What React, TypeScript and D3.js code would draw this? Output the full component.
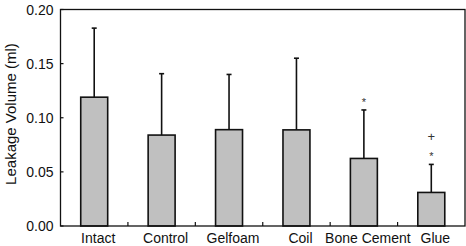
import React from "react";
import * as d3 from "d3";

const categories = ["Intact", "Control", "Gelfoam", "Coil", "Bone Cement", "Glue"];
const means = [0.119, 0.084, 0.089, 0.0888, 0.0624, 0.031];
const errTops = [0.1828, 0.1407, 0.140, 0.155, 0.1072, 0.0569];
const marks = [[], [], [], [], ["*"], ["*", "+"]];
const yTicks = [0, 0.05, 0.1, 0.15, 0.2];

const W = 466, H = 246;
const M = { left: 60.5, right: 465, top: 9.5, bottom: 226 };

export default function App() {
  const x = d3.scaleBand<string>().domain(categories).range([M.left, M.right]).paddingInner(0).paddingOuter(0);
  const y = d3.scaleLinear().domain([0, 0.2]).range([M.bottom, M.top]);
  const bw = x.bandwidth() * 0.4;
  const font = "Liberation Sans, Arial, sans-serif";
  return (
    <svg width={W} height={H} style={{ position: "absolute", left: 0, top: 0 }}>
      <rect x={0} y={0} width={W} height={H} fill="white" />
      {categories.map((c, i) => {
        const cx = x(c)! + x.bandwidth() / 2;
        return (
          <g key={c}>
            <line x1={cx} x2={cx} y1={y(means[i])} y2={y(errTops[i])} stroke="#111" strokeWidth={1.6} />
            <line x1={cx - 2.5} x2={cx + 2.5} y1={y(errTops[i])} y2={y(errTops[i])} stroke="#111" strokeWidth={1.6} />
            <rect x={cx - bw / 2} y={y(means[i])} width={bw} height={y(0) - y(means[i])} fill="#c0c0c0" stroke="#111" strokeWidth={1.6} />
            {marks[i].map((m, k) => (
              <text key={k} x={cx} y={y(errTops[i]) - 8 - k * 15 + (m === "*" ? 4 : 0)} textAnchor="middle" fontFamily={font} fontSize={m === "*" ? 11 : 13} fill="#333">{m}</text>
            ))}
            <text x={cx + 4} y={243} textAnchor="middle" fontFamily={font} fontSize={14} fill="#111">{c}</text>
          </g>
        );
      })}
      {categories.slice(1).map((c) => (
        <line key={c} x1={x(c)!} x2={x(c)!} y1={M.bottom} y2={M.bottom - 4} stroke="#111" strokeWidth={1.2} />
      ))}
      {yTicks.map((t) => (
        <g key={t}>
          <line x1={M.left} x2={M.left + 3} y1={y(t)} y2={y(t)} stroke="#111" strokeWidth={1.2} />
          <text x={53.5} y={y(t) + 5} textAnchor="end" fontFamily={font} fontSize={14} fill="#111">{t.toFixed(2)}</text>
        </g>
      ))}
      <rect x={M.left} y={M.top} width={M.right - M.left} height={M.bottom - M.top} fill="none" stroke="#111" strokeWidth={1.3} />
      <text transform={`translate(15.5,114) rotate(-90)`} textAnchor="middle" fontFamily={font} fontSize={15} fill="#111">Leakage Volume (ml)</text>
    </svg>
  );
}
